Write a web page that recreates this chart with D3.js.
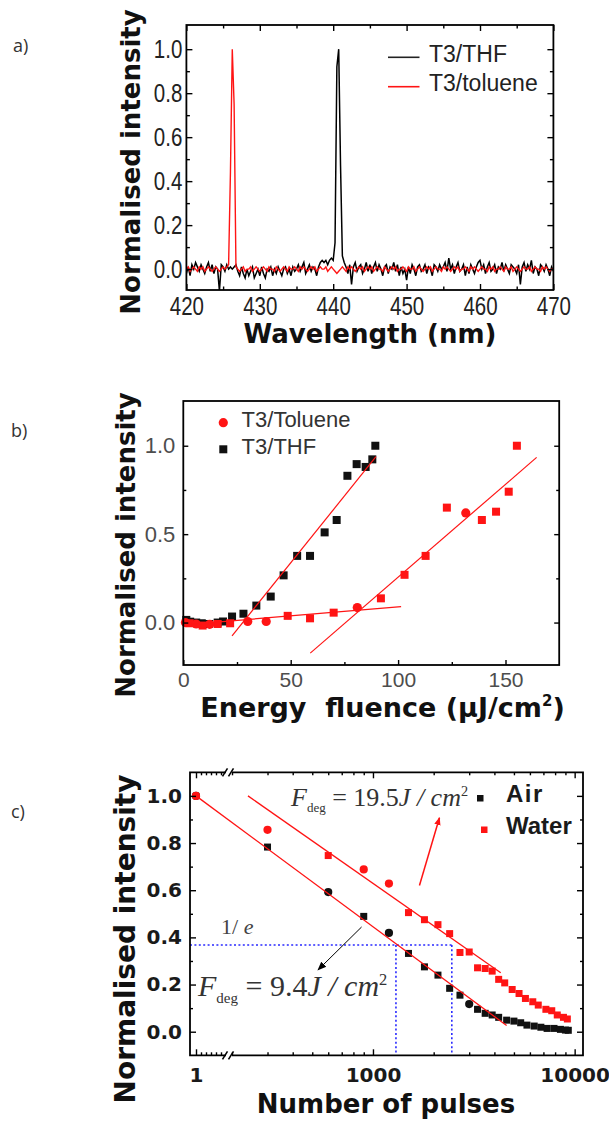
<!DOCTYPE html>
<html>
<head>
<meta charset="utf-8">
<script src="https://cdn.jsdelivr.net/npm/d3@7"></script>
<style>
  html, body { margin: 0; padding: 0; background: #fff; }
  svg { display: block; }
</style>
</head>
<body>
<div id="chart"></div>
<script>
// ── Panel a: emission spectra (0.25 nm steps from 420 nm) ─────────────────
const specStart = 420, specStep = 0.25;
const specTHF = [
  -0.02, 0.01, -0.03, 0.02, 0.00, 0.03, 0.01, -0.01, 0.02, 0.00, -0.02, 0.01, 0.03, -0.01, 0.02, -0.02, 0.01, 0.00, -0.10, 0.02,
  0.01, -0.01, 0.02, 0.00, 0.01, 0.00, 0.01, 0.02, -0.01, -0.03, 0.01, -0.02, -0.04, 0.00, -0.03, -0.01, 0.01, -0.04, -0.02, 0.00,
  -0.03, 0.01, -0.02, -0.04, 0.00, -0.01, 0.01, -0.03, 0.00, -0.02, 0.01, -0.01, -0.03, 0.00, 0.01, -0.02, 0.00, -0.03, 0.01, -0.01,
  0.00, 0.02, -0.01, 0.01, 0.03, -0.02, 0.00, 0.02, -0.01, 0.01, 0.00, -0.03, 0.01, 0.03, 0.04, 0.03, 0.04, 0.02, 0.04, 0.05,
  0.04, 0.12, 0.92, 1.00, 0.47, 0.06, 0.03, 0.01, -0.02, 0.02, -0.07, 0.01, 0.03, -0.01, 0.01, 0.02, -0.02, 0.00, 0.03, -0.01,
  0.02, -0.02, 0.01, 0.03, -0.01, 0.02, 0.00, -0.03, 0.01, 0.02, -0.02, 0.01, 0.00, 0.03, -0.01, 0.02, -0.03, 0.01, -0.02, 0.00,
  -0.05, 0.01, -0.02, 0.02, 0.00, -0.03, 0.01, 0.02, -0.01, 0.00, 0.02, -0.02, 0.01, 0.00, -0.03, 0.02, 0.01, -0.01, 0.02, 0.00,
  0.01, 0.03, -0.01, 0.05, 0.00, 0.02, -0.02, 0.01, 0.03, -0.01, 0.00, 0.02, -0.03, 0.01, -0.02, 0.02, 0.00, -0.02, 0.01, 0.03,
  0.04, 0.00, 0.02, -0.02, 0.01, 0.03, -0.01, 0.00, 0.02, -0.02, 0.01, 0.00, 0.03, -0.01, 0.02, 0.00, -0.02, 0.02, 0.01, 0.00,
  -0.02, 0.02, -0.07, 0.01, 0.03, -0.01, 0.02, 0.00, 0.04, -0.02, 0.01, 0.00, -0.03, 0.02, 0.01, -0.01, 0.02, 0.00, -0.03, 0.01, -0.01
];
const specToluene = [
  0.00, 0.01, -0.01, 0.00, 0.01, 0.00, -0.01, 0.01, 0.00, 0.01, -0.01, 0.00, 0.01, 0.00, -0.01, 0.00, 0.01, 0.00, -0.01, 0.00,
  0.01, 0.00, 0.01, 0.02, 0.44, 1.00, 0.75, 0.01, 0.00, -0.01, 0.00, 0.01, -0.01, 0.00, 0.00, 0.01, -0.01, 0.00, 0.01, 0.00,
  -0.01, 0.00, 0.01, 0.00, -0.01, 0.01, 0.00, 0.00, -0.01, 0.01, 0.00, -0.01, 0.00, 0.01, 0.00, -0.01, 0.01, 0.00, 0.00, 0.01,
  0.00, -0.01, 0.01, 0.00, 0.01, 0.00, -0.01, 0.00, 0.01, 0.00, 0.01, -0.01, 0.00, 0.01, 0.00, 0.00, 0.01, -0.01, 0.00, 0.01,
  0.00, -0.01, -0.02, -0.01, 0.00, 0.01, 0.00, -0.01, 0.01, 0.00, 0.01, 0.00, -0.01, 0.00, 0.01, 0.00, 0.01, -0.01, 0.00, 0.01,
  0.00, 0.01, -0.01, 0.00, 0.01, 0.00, 0.00, -0.01, 0.01, 0.00, -0.01, 0.00, 0.01, 0.00, 0.01, -0.01, 0.00, 0.00, 0.01, 0.00,
  -0.01, 0.01, 0.00, 0.00, 0.01, -0.01, 0.00, 0.01, 0.00, -0.01, 0.00, 0.01, 0.00, 0.01, -0.01, 0.00, 0.01, 0.00, 0.00, -0.01,
  0.01, 0.00, 0.01, 0.00, -0.01, 0.00, 0.01, 0.00, 0.01, -0.01, 0.00, 0.00, 0.01, 0.00, -0.01, 0.01, 0.00, 0.01, 0.00, -0.01,
  0.00, 0.01, 0.00, 0.00, -0.01, 0.01, 0.00, 0.01, -0.01, 0.00, 0.00, 0.01, 0.00, -0.01, 0.01, 0.00, 0.00, 0.01, -0.01, 0.00,
  0.01, 0.00, -0.01, 0.00, 0.01, 0.00, 0.00, 0.01, -0.01, 0.00, 0.01, 0.00, 0.00, -0.01, 0.01, 0.00, 0.01, 0.00, -0.01, 0.00, 0.00
];
const aSeries = ["T3/THF", "T3/toluene"];
const aXTicks = [420, 430, 440, 450, 460, 470];
const aXMinor = [425, 435, 445, 455, 465];
const aYTicks = [0, 0.2, 0.4, 0.6, 0.8, 1.0];
const aYMinor = [0.1, 0.3, 0.5, 0.7, 0.9];

// ── Panel b: intensity vs energy fluence ──────────────────────────────────
const thfFluence   = [1.4, 3.2, 6, 8.6, 12, 16, 18.5, 22.7, 28, 34, 40.7, 46.7, 53, 59, 65.8, 71.4, 76.4, 80.7, 84.9, 88, 89.4];
const thfIntensity = [0.015, 0.005, 0, -0.004, -0.008, 0, 0.006, 0.034, 0.05, 0.096, 0.147, 0.267, 0.377, 0.377, 0.51, 0.58, 0.83, 0.896, 0.88, 0.923, 1.0];
const tolFluence   = [1, 3, 6, 9, 12.3, 16, 21.8, 30, 38.6, 48.6, 59, 70, 81, 92, 103, 112.8, 122.7, 131.5, 139, 145.6, 151.5, 155.3];
const tolIntensity = [0, -0.004, -0.008, -0.017, -0.01, -0.008, -0.004, 0.006, 0.006, 0.038, 0.024, 0.056, 0.085, 0.137, 0.27, 0.377, 0.65, 0.62, 0.58, 0.627, 0.74, 1.0];
const tolShape     = ["c","s","c","s","c","s","s","c","c","s","s","s","c","s","s","s","s","c","s","s","s","s"];
const fitLinesB = [
  [[22.7, -0.075], [89.7, 0.938]],
  [[0, -0.013], [101.4, 0.09]],
  [[59.1, -0.173], [164.5, 0.934]]
];
const bSeries = ["T3/Toluene", "T3/THF"];
const bXTicks = [0, 50, 100, 150];
const bXMinor = [25, 75, 125];
const bYTicks = [0, 0.5, 1.0];
const bYMinor = [0.25, 0.75];

// ── Panel c: intensity vs number of pulses ────────────────────────────────
const airPulses    = [1, 300, 600, 900, 1200, 1500, 1800, 2100, 2400, 2700, 3000, 3300, 3600, 3900, 4200, 4600, 5000, 5400, 5800, 6300, 6800, 7300, 7900, 8500, 9000, 9300];
const airIntensity = [1.0, 0.783, 0.592, 0.489, 0.419, 0.332, 0.275, 0.240, 0.184, 0.155, 0.117, 0.095, 0.078, 0.071, 0.061, 0.049, 0.045, 0.038, 0.028, 0.024, 0.019, 0.014, 0.014, 0.010, 0.007, 0.006];
const airShape     = ["c","s","c","s","c","s","s","s","s","s","c","s","s","s","s","s","s","s","s","s","s","s","s","s","s","s"];
const waterPulses    = [1, 300, 600, 900, 1200, 1500, 1800, 2100, 2400, 2700, 3000, 3300, 3600, 3900, 4200, 4500, 4900, 5300, 5700, 6200, 6600, 7200, 7700, 8200, 8800, 9200];
const waterIntensity = [1.0, 0.856, 0.747, 0.688, 0.628, 0.505, 0.475, 0.454, 0.416, 0.336, 0.338, 0.271, 0.268, 0.257, 0.222, 0.207, 0.179, 0.162, 0.141, 0.127, 0.113, 0.095, 0.089, 0.071, 0.061, 0.054];
const waterShape     = ["c","c","s","c","c","s","s","s","s","s","s","s","s","s","s","s","s","s","s","s","s","s","s","s","s","s"];
const airFit   = [[1, 1.0], [4600, 0.026]];
const waterFit = [[240, 1.0], [4300, 0.25]];
const invE = 0.368;
const invECross = [1300, 2460];
const arrowAir   = [[878, 0.444], [534, 0.262]];
const arrowWater = [[1700, 0.62], [2136, 0.907]];
const cSeries = ["Air", "Water"];
const cXTicks      = [1000, 10000];
const cXMinor      = [200, 300, 400, 500, 600, 700, 800, 900, 2000, 3000, 4000, 5000, 6000, 7000, 8000, 9000];
const cXLeftTicks  = [1];
const cXLeftMinor  = [1.25, 1.5, 1.75, 2, 2.25];
const cYTicks = [0, 0.2, 0.4, 0.6, 0.8, 1.0];
const cYMinor = [0.1, 0.3, 0.5, 0.7, 0.9];

// ── Common ────────────────────────────────────────────────────────────────
const RED = "#ff1414", BLACK = "#000";
const TITLE_FONT = "DejaVu Sans, Liberation Sans, sans-serif";
const SANS = "Liberation Sans, Arial, sans-serif";
const SERIF = "Liberation Serif, Times New Roman, serif";

const svg = d3.select("#chart").append("svg")
  .attr("width", 609).attr("height", 1124)
  .style("background", "#fff");

const defs = svg.append("defs");
[["arrBlack", BLACK, 9], ["arrRed", RED, 8]].forEach(([id, c, s]) => {
  defs.append("marker").attr("id", id)
    .attr("markerUnits", "userSpaceOnUse")
    .attr("markerWidth", s).attr("markerHeight", s)
    .attr("viewBox", "0 0 10 10").attr("refX", 9).attr("refY", 5)
    .attr("orient", "auto")
    .append("path").attr("d", "M0,1 L10,5 L0,9 z").attr("fill", c);
});

function tickRow(g, axisGen, scale, at, values, size, fmt, pad) {
  const a = g.append("g").attr("transform", at)
    .call(axisGen(scale).tickValues(values).tickSize(size)
      .tickPadding(pad || 0).tickFormat(fmt || ""));
  a.select(".domain").remove();
  a.selectAll("line").attr("stroke", BLACK).attr("stroke-width", 1.4);
  return a;
}

function styleText(a, family, size, weight, fill) {
  a.attr("font-family", family).attr("font-size", size).attr("font-weight", weight);
  a.selectAll("text").attr("fill", fill);
}

function drawMarkers(g, xs, ys, shapes, x, y, color, size) {
  const pts = xs.map((v, i) => ({ x: x(v), y: y(ys[i]), s: shapes ? shapes[i] : "s" }));
  g.selectAll(null).data(pts.filter(d => d.s === "s")).join("rect")
    .attr("x", d => d.x - size / 2).attr("y", d => d.y - size / 2)
    .attr("width", size).attr("height", size).attr("fill", color);
  g.selectAll(null).data(pts.filter(d => d.s === "c")).join("circle")
    .attr("cx", d => d.x).attr("cy", d => d.y).attr("r", size / 2 + 0.6).attr("fill", color);
}

function yTitle(x, y, size, text) {
  svg.append("text")
    .attr("transform", `translate(${x},${y}) rotate(-90)`)
    .attr("text-anchor", "middle")
    .attr("font-family", TITLE_FONT).attr("font-weight", "bold")
    .attr("font-size", size).attr("fill", "#111")
    .text(text);
}

function panelLabel(x, y, text) {
  svg.append("text").attr("x", x).attr("y", y)
    .attr("font-family", "Open Sans, sans-serif").attr("font-size", 18)
    .attr("fill", "#333").text(text);
}

// ── Panel a ───────────────────────────────────────────────────────────────
{
  const L = 186.4, R = 553.4, T = 25, B = 290;
  const x = d3.scaleLinear().domain([420, 470]).range([L, R]);
  const y = d3.scaleLinear().domain([-0.095, 1.11]).range([B, T]);
  const g = svg.append("g");

  defs.append("clipPath").attr("id", "clipA")
    .append("rect").attr("x", L).attr("y", T).attr("width", R - L).attr("height", B - T);

  const line = d3.line().x((d, i) => x(specStart + i * specStep)).y(d => y(d));
  const plot = g.append("g").attr("clip-path", "url(#clipA)");
  plot.append("path").datum(specTHF).attr("d", line)
    .attr("fill", "none").attr("stroke", BLACK).attr("stroke-width", 1.5);
  plot.append("path").datum(specToluene).attr("d", line)
    .attr("fill", "none").attr("stroke", RED).attr("stroke-width", 1.4);

  const xa = tickRow(g, d3.axisBottom, x, `translate(0,${B})`, aXTicks, -6, d3.format("d"), 7);
  styleText(xa, SANS, 25, "normal", "#222");
  xa.selectAll("text").attr("transform", "scale(0.82,1)");
  tickRow(g, d3.axisBottom, x, `translate(0,${B})`, aXMinor, -3.5);
  tickRow(g, d3.axisTop, x, `translate(0,${T})`, aXTicks, -6);
  tickRow(g, d3.axisTop, x, `translate(0,${T})`, aXMinor, -3.5);

  const ya = tickRow(g, d3.axisLeft, y, `translate(${L},0)`, aYTicks, -6, d3.format(".1f"), 5);
  styleText(ya, SANS, 25, "normal", "#222");
  ya.selectAll("text").attr("transform", "scale(0.82,1)");
  tickRow(g, d3.axisLeft, y, `translate(${L},0)`, aYMinor, -3.5);
  tickRow(g, d3.axisRight, y, `translate(${R},0)`, aYTicks, -6);
  tickRow(g, d3.axisRight, y, `translate(${R},0)`, aYMinor, -3.5);

  g.append("rect").attr("x", L).attr("y", T).attr("width", R - L).attr("height", B - T)
    .attr("fill", "none").attr("stroke", BLACK).attr("stroke-width", 1.8);

  // legend
  aSeries.forEach((name, i) => {
    const ly = 57.3 + i * 29.4;
    g.append("line").attr("x1", 388).attr("x2", 419.5).attr("y1", ly).attr("y2", ly)
      .attr("stroke", i ? RED : "#222").attr("stroke-width", 1.6);
    g.append("text").attr("x", 429).attr("y", ly + 4.5)
      .attr("font-family", SANS).attr("font-size", 23).attr("fill", "#222").text(name);
  });

  svg.append("text").attr("x", 370).attr("y", 343).attr("text-anchor", "middle")
    .attr("font-family", TITLE_FONT).attr("font-weight", "bold").attr("font-size", 26)
    .attr("fill", "#111").text("Wavelength (nm)");
  yTitle(140, 162, 26, "Normalised intensity");
  panelLabel(13, 52, "a)");
}

// ── Panel b ───────────────────────────────────────────────────────────────
{
  const L = 183.3, R = 559.2, T = 401, B = 665;
  const x = d3.scaleLinear().domain([0, 175]).range([L, R]);
  const y = d3.scaleLinear().domain([-0.24, 1.253]).range([B, T]);
  const g = svg.append("g");

  drawMarkers(g, thfFluence, thfIntensity, null, x, y, "#111", 8);
  drawMarkers(g, tolFluence, tolIntensity, tolShape, x, y, RED, 8);

  const fit = d3.line().x(d => x(d[0])).y(d => y(d[1]));
  fitLinesB.forEach(seg => {
    g.append("path").datum(seg).attr("d", fit)
      .attr("fill", "none").attr("stroke", RED).attr("stroke-width", 1.2);
  });

  const xa = tickRow(g, d3.axisBottom, x, `translate(0,${B})`, bXTicks, -5, d3.format("d"), 7);
  styleText(xa, SANS, 21, "normal", "#4d4d4d");
  tickRow(g, d3.axisBottom, x, `translate(0,${B})`, bXMinor, -3);
  const ya = tickRow(g, d3.axisLeft, y, `translate(${L},0)`, bYTicks, -5, d3.format(".1f"), 8);
  styleText(ya, SANS, 22, "normal", "#4d4d4d");
  tickRow(g, d3.axisLeft, y, `translate(${L},0)`, bYMinor, -3);
  tickRow(g, d3.axisRight, y, `translate(${R},0)`, bYTicks, -5);
  tickRow(g, d3.axisRight, y, `translate(${R},0)`, bYMinor, -3);

  g.append("rect").attr("x", L).attr("y", T).attr("width", R - L).attr("height", B - T)
    .attr("fill", "none").attr("stroke", BLACK).attr("stroke-width", 1.8);

  // legend
  bSeries.forEach((name, i) => {
    const ly = 422.7 + i * 26.6;
    if (i === 0) g.append("circle").attr("cx", 223.3).attr("cy", ly).attr("r", 4.6).attr("fill", RED);
    else g.append("rect").attr("x", 219.3).attr("y", ly - 4).attr("width", 8).attr("height", 8).attr("fill", "#111");
    g.append("text").attr("x", 241.6).attr("y", ly + 4.6)
      .attr("font-family", SANS).attr("font-size", 22).attr("fill", "#333").text(name);
  });

  const xt = svg.append("text").attr("x", 382.5).attr("y", 717).attr("text-anchor", "middle")
    .attr("font-family", TITLE_FONT).attr("font-weight", "bold").attr("font-size", 27)
    .attr("fill", "#111").style("white-space", "pre");
  xt.append("tspan").text("Energy  fluence (µJ/cm");
  xt.append("tspan").attr("dy", -11).attr("font-size", 15).text("2");
  xt.append("tspan").attr("dy", 11).text(")");
  yTitle(135, 545, 26, "Normalised intensity");
  panelLabel(11, 437, "b)");
}

// ── Panel c ───────────────────────────────────────────────────────────────
{
  const L = 190, R = 583, T = 772.3, B = 1055.3, brk0 = 226, brk1 = 232;
  const xl = d3.scaleLinear().domain([0.7, 2.5]).range([L, brk0]);
  const xr = d3.scaleLog().domain([200, 11000]).range([brk1, R]);
  const x = v => (v < 100 ? xl(v) : xr(v));
  const y = d3.scaleLinear().domain([-0.1, 1.1]).range([B, T]);
  const g = svg.append("g");

  // 1/e guides
  const guide = (x1, y1, x2, y2) => g.append("line")
    .attr("x1", x1).attr("y1", y1).attr("x2", x2).attr("y2", y2)
    .attr("stroke", "#2a2aff").attr("stroke-width", 1.6).attr("stroke-dasharray", "2,2.4");
  guide(L, y(invE), x(invECross[1]), y(invE));
  invECross.forEach(v => guide(x(v), y(invE), x(v), B));

  drawMarkers(g, airPulses, airIntensity, airShape, x, y, "#111", 7);
  drawMarkers(g, waterPulses, waterIntensity, waterShape, x, y, RED, 7);

  const fit = d3.line().x(d => x(d[0])).y(d => y(d[1]));
  [airFit, waterFit].forEach(seg => {
    g.append("path").datum(seg).attr("d", fit)
      .attr("fill", "none").attr("stroke", RED).attr("stroke-width", 1.3);
  });

  g.append("path").datum(arrowAir).attr("d", fit)
    .attr("stroke", BLACK).attr("stroke-width", 1).attr("marker-end", "url(#arrBlack)");
  g.append("path").datum(arrowWater).attr("d", fit)
    .attr("stroke", RED).attr("stroke-width", 1.5).attr("marker-end", "url(#arrRed)");

  // ticks
  const xa = tickRow(g, d3.axisBottom, xr, `translate(0,${B})`, cXTicks, -6, d3.format("d"), 12.5);
  styleText(xa, TITLE_FONT, 20, "bold", "#1a1a1a");
  tickRow(g, d3.axisBottom, xr, `translate(0,${B})`, cXMinor, -3);
  const xla = tickRow(g, d3.axisBottom, xl, `translate(0,${B})`, cXLeftTicks, -6, d3.format("d"), 12.5);
  styleText(xla, TITLE_FONT, 20, "bold", "#1a1a1a");
  tickRow(g, d3.axisBottom, xl, `translate(0,${B})`, cXLeftMinor, -3);
  tickRow(g, d3.axisTop, xr, `translate(0,${T})`, cXTicks, -6);
  tickRow(g, d3.axisTop, xr, `translate(0,${T})`, cXMinor, -3);
  tickRow(g, d3.axisTop, xl, `translate(0,${T})`, cXLeftTicks, -6);
  tickRow(g, d3.axisTop, xl, `translate(0,${T})`, cXLeftMinor, -3);

  const ya = tickRow(g, d3.axisLeft, y, `translate(${L},0)`, cYTicks, -6, d3.format(".1f"), 8);
  styleText(ya, TITLE_FONT, 20, "bold", "#1a1a1a");
  tickRow(g, d3.axisLeft, y, `translate(${L},0)`, cYMinor, -3);
  tickRow(g, d3.axisRight, y, `translate(${R},0)`, cYTicks, -6);
  tickRow(g, d3.axisRight, y, `translate(${R},0)`, cYMinor, -3);

  // frame with axis break
  const frame = d3.path();
  frame.moveTo(brk0, T); frame.lineTo(L, T); frame.lineTo(L, B); frame.lineTo(brk0, B);
  frame.moveTo(brk1, B); frame.lineTo(R, B); frame.lineTo(R, T); frame.lineTo(brk1, T);
  g.append("path").attr("d", frame.toString())
    .attr("fill", "none").attr("stroke", BLACK).attr("stroke-width", 1.8);
  [T, B].forEach(yy => {
    [brk0 - 1.5, brk1 - 1.5].forEach(xx => {
      g.append("line").attr("x1", xx - 2).attr("y1", yy + 4).attr("x2", xx + 3).attr("y2", yy - 4)
        .attr("stroke", BLACK).attr("stroke-width", 1.6);
    });
  });

  // legend
  cSeries.forEach((name, i) => {
    const ly = 798 + i * 31.5;
    const lx = 480 + i * 4;
    g.append("rect").attr("x", lx - 3).attr("y", ly - 3).attr("width", 6.5).attr("height", 6.5)
      .attr("fill", i ? RED : "#111");
    g.append("text").attr("x", 506).attr("y", ly + 4)
      .attr("font-family", SANS).attr("font-weight", "bold").attr("font-size", 24)
      .attr("letter-spacing", i ? 0 : 1.5).attr("fill", "#1a1a1a").text(name);
  });

  // annotations
  function fdeg(px, py, size, value) {
    const t = g.append("text").attr("x", px).attr("y", py)
      .attr("font-family", SERIF).attr("font-size", size).attr("fill", "#333")
      .style("white-space", "pre");
    t.append("tspan").attr("font-style", "italic").text("F");
    t.append("tspan").attr("font-size", size * 0.5).attr("dy", size * 0.22).text("deg");
    t.append("tspan").attr("dy", -size * 0.22).text(" = " + value);
    t.append("tspan").attr("font-style", "italic").text("J / cm");
    t.append("tspan").attr("font-size", size * 0.55).attr("dy", -size * 0.38).text("2");
  }
  fdeg(291, 806, 26, "19.5");
  fdeg(198, 996, 30, "9.4");

  const e = g.append("text").attr("x", 221).attr("y", 934)
    .attr("font-family", SERIF).attr("font-size", 22).attr("fill", "#444")
    .style("white-space", "pre");
  e.append("tspan").text("1/ ");
  e.append("tspan").attr("font-style", "italic").text("e");

  svg.append("text").attr("x", 386).attr("y", 1113).attr("text-anchor", "middle")
    .attr("font-family", TITLE_FONT).attr("font-weight", "bold").attr("font-size", 26)
    .attr("fill", "#111").text("Number of pulses");
  yTitle(135, 939, 28, "Normalised intensity");
  panelLabel(11, 818, "c)");
}
</script>
</body>
</html>
